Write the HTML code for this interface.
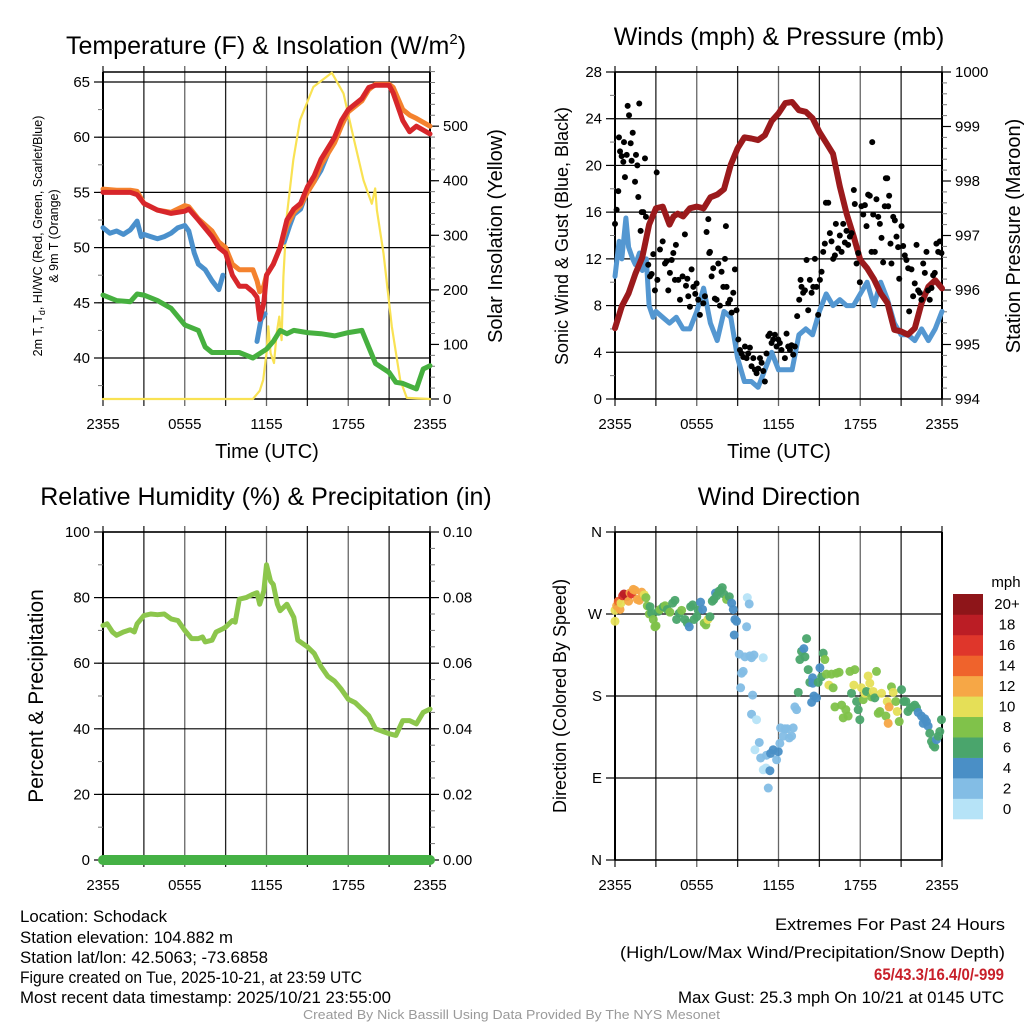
<!DOCTYPE html>
<html><head><meta charset="utf-8"><style>
html,body{margin:0;padding:0;background:#fff}
svg{display:block;font-family:"Liberation Sans",Arial,sans-serif}
</style></head><body>
<svg id="fig" width="1024" height="1024" viewBox="0 0 1024 1024" xmlns="http://www.w3.org/2000/svg">
<rect width="1024" height="1024" fill="#fff"/>
<text x="266" y="54" font-size="25" text-anchor="middle">Temperature (F) &amp; Insolation (W/m<tspan font-size="15" dy="-10">2</tspan><tspan dy="10">)</tspan></text>
<text x="779" y="45" font-size="25" text-anchor="middle">Winds (mph) &amp; Pressure (mb)</text>
<text x="266" y="505" font-size="25" text-anchor="middle">Relative Humidity (%) &amp; Precipitation (in)</text>
<text x="779" y="505" font-size="25" text-anchor="middle">Wind Direction</text>

<text transform="translate(42,236) rotate(-90)" font-size="12.5" text-anchor="middle">2m T, T<tspan font-size="9" dy="3">d</tspan><tspan dy="-3">, HI/WC (Red, Green, Scarlet/Blue)</tspan></text>
<text transform="translate(58,236) rotate(-90)" font-size="12.5" text-anchor="middle">&amp; 9m T (Orange)</text>
<text transform="translate(502,236) rotate(-90)" font-size="20" text-anchor="middle">Solar Insolation (Yellow)</text>
<text transform="translate(568,236) rotate(-90)" font-size="18" text-anchor="middle">Sonic Wind &amp; Gust (Blue, Black)</text>
<text transform="translate(1020,236) rotate(-90)" font-size="20" text-anchor="middle">Station Pressure (Maroon)</text>
<text transform="translate(43,696) rotate(-90)" font-size="21" text-anchor="middle">Percent &amp; Precipitation</text>
<text transform="translate(566,696) rotate(-90)" font-size="18" text-anchor="middle">Direction (Colored By Speed)</text>
<text x="267" y="458" font-size="20" text-anchor="middle">Time (UTC)</text>
<text x="779" y="458" font-size="20" text-anchor="middle">Time (UTC)</text>

<g font-size="16.5" lengthAdjust="spacingAndGlyphs">
<text x="20" y="922" textLength="147" lengthAdjust="spacingAndGlyphs">Location: Schodack</text>
<text x="20" y="943" textLength="213" lengthAdjust="spacingAndGlyphs">Station elevation: 104.882 m</text>
<text x="20" y="963" textLength="248" lengthAdjust="spacingAndGlyphs">Station lat/lon: 42.5063; -73.6858</text>
<text x="20" y="983" textLength="342" lengthAdjust="spacingAndGlyphs">Figure created on Tue, 2025-10-21, at 23:59 UTC</text>
<text x="20" y="1003" textLength="371" lengthAdjust="spacingAndGlyphs">Most recent data timestamp: 2025/10/21 23:55:00</text>
</g>
<g font-size="17">
<text x="775" y="930" textLength="230" lengthAdjust="spacingAndGlyphs">Extremes For Past 24 Hours</text>
<text x="620" y="958" textLength="385" lengthAdjust="spacingAndGlyphs">(High/Low/Max Wind/Precipitation/Snow Depth)</text>
<text x="874" y="980" textLength="130" lengthAdjust="spacingAndGlyphs" fill="#c8202a" font-weight="bold">65/43.3/16.4/0/-999</text>
<text x="678" y="1003" textLength="326" lengthAdjust="spacingAndGlyphs">Max Gust: 25.3 mph On 10/21 at 0145 UTC</text>
</g>
<text x="303" y="1019" font-size="13" textLength="417" lengthAdjust="spacingAndGlyphs" fill="#9a9a9a">Created By Nick Bassill Using Data Provided By The NYS Mesonet</text>
</svg>
<script>
// ---- data ----
const xTickLabels = ["2355","0555","1155","1755","2355"];
const redT = [0,1,2,2.5,3,4,5,6,6.3,7,8,8.5,9,9.5,10,10.5,11,11.3,11.5,11.8,12,12.5,13,13.5,14,14.5,15,15.5,16,17,17.5,18,19,19.5,20,21,21.3,22,22.5,23,24];
const redV = [55.0,55.0,55.0,54.8,54.0,53.4,53.1,53.3,53.5,52.5,51.0,50.0,49.5,47.5,46.5,46.5,46.0,45.5,43.5,45,47.5,48.5,50,52.5,53.5,54,55.5,56.5,58,60,61.5,62.5,63.5,64.5,64.7,64.7,64.0,61.5,60.5,61,60.3];
const orangeV = [55.3,55.2,55.2,55.1,54.0,53.4,53.2,53.8,53.7,52.6,51.5,50.5,50.0,48.5,48.0,48.0,48.0,47.0,46.0,46.5,47.5,48.5,50,52,53.2,53.8,55,56,57.5,59.5,61,62.3,63.3,64.3,64.8,64.8,64.5,62.5,62,61.7,61];
const blueT = [0,0.5,1,1.5,2,2.5,2.8,3,3.5,4,4.5,5,5.5,6,6.3,6.7,7,7.5,8,8.5,8.8,null,11.3,11.6,11.9,null,13.3,13.7,14,14.5,15,15.5,16,16.5];
const blueV = [51.8,51.3,51.5,51.2,51.6,52.4,51.0,51.2,51.0,50.8,51.0,51.3,51.8,52.0,51.5,49.5,48.5,48.0,47.0,46.2,47.5,null,41.5,43.5,44.0,null,50.5,52.0,53.0,53.5,55.2,56,57,58.5];
const greenT = [0,1,2,2.5,3,4,5,6,7,7.5,8,9,10,11,12,12.5,13,13.5,14,15,16,17,18,19,19.5,20,21,21.5,22,23,23.5,24];
const greenV = [45.7,45.2,45.1,45.8,45.7,45.2,44.5,43.0,42.5,41,40.5,40.5,40.5,40.0,40.8,41.5,42.5,42.2,42.5,42.3,42.2,42.0,42.3,42.5,41,39.5,38.7,37.8,37.7,37.2,39,39.3];
const solarT = [0,11.0,11.5,11.76,12.0,12.13,12.3,12.55,12.75,12.94,13.11,13.24,13.48,13.97,14.46,15.44,16.79,17.65,18.38,19.12,19.73,19.98,20.1,20.59,21.2,21.81,22.3,24];
const solarV = [0,0,15,35,84,133,84,66,121,151,108,224,334,438,511,572,598,560,480,401,358,386,346,267,133,35,2,0];
const tempTicks = [40,45,50,55,60,65];
const solarTicks = [0,100,200,300,400,500];

const windT = [0,0.3,0.5,0.8,1,1.3,1.5,1.8,2,2.3,2.5,2.8,3,3.5,4,4.5,5,5.5,6,6.5,7,7.5,8,8.5,9,9.5,10,10.5,11,11.5,12,12.5,13,13.5,14,14.5,15,15.5,16,16.5,17,17.5,18,18.5,19,19.5,20,20.5,21,21.5,22,22.5,23,23.5,24];
const windV = [10.5,13.5,12,15.5,13,12,11.5,12.5,11,12,8,7,7.5,7,6.5,7,6,6,7.5,9.5,6.5,5,7.5,7,3.5,1.5,1.5,1,2.5,4,2.5,2.5,2.5,5.5,6,5.5,7.5,9,8,8.5,8,8,9,10,8,10,8.5,6.5,5.5,5.5,5,6,5,6,7.5];
const presT = [0,0.5,1,1.5,2,2.5,3,3.5,4,4.3,4.6,5,5.5,6,6.5,7,7.5,8,8.5,9,9.5,10,10.5,11,11.5,12,12.5,13,13.5,14,14.5,15,15.5,16,16.5,17,17.5,18,18.5,19,19.5,20,20.5,21,21.5,22,22.5,23,23.5,24];
const presV = [995.3,995.7,995.94,996.3,996.6,997.2,997.5,997.53,997.2,997.35,997.4,997.35,997.5,997.53,997.5,997.7,997.75,997.85,998.3,998.6,998.8,998.78,998.75,998.84,999.1,999.24,999.43,999.45,999.3,999.27,999.15,998.9,998.7,998.5,997.9,997.4,997.0,996.55,996.4,996.2,995.94,995.76,995.27,995.24,995.18,995.3,995.76,996.06,996.18,996.03];
const gustT = [0,0.12,0.24,0.29,0.37,0.49,0.61,0.66,0.73,0.86,0.93,1.03,1.15,1.22,1.3,1.47,1.54,1.64,1.71,1.78,1.88,1.96,2.08,2.2,2.27,2.44,2.57,2.69,2.81,2.93,3.06,3.11,3.3,3.5,3.67,3.79,3.91,4.03,4.16,4.28,4.4,4.47,4.65,4.77,4.96,5.13,5.21,5.31,5.38,5.5,5.62,5.75,5.89,5.99,6.11,6.23,6.48,6.6,6.72,6.85,6.92,6.97,7.09,7.21,7.33,7.46,7.58,7.7,7.82,7.95,8.07,8.14,8.19,8.31,8.44,8.56,8.68,8.8,8.92,9.05,9.17,9.29,9.41,9.54,9.66,9.78,9.9,10.02,10.15,10.27,10.39,10.51,10.64,10.76,10.88,11.0,11.12,11.25,11.37,11.49,11.61,11.74,11.86,11.98,12.1,12.22,12.47,12.59,12.71,12.84,12.96,13.08,13.2,13.37,13.52,13.62,13.69,13.81,13.94,14.06,14.18,14.3,14.43,14.55,14.67,14.79,14.91,15.04,15.16,15.28,15.4,15.48,15.65,15.77,15.89,16.01,16.14,16.21,16.38,16.5,16.63,16.75,16.87,16.99,17.11,17.24,17.36,17.53,17.6,17.73,17.85,17.97,18.09,18.22,18.34,18.46,18.58,18.7,18.83,18.88,18.95,19.07,19.19,19.32,19.44,19.56,19.68,19.8,19.88,19.98,20.05,20.12,20.22,20.29,20.42,20.54,20.66,20.78,20.86,21.03,21.15,21.27,21.39,21.52,21.59,21.76,21.88,22.0,22.13,22.25,22.37,22.49,22.62,22.74,22.86,22.98,23.1,23.23,23.35,23.47,23.59,23.72,23.84,23.96];
const gustV = [15,16.2,17.8,22.4,21.2,20.8,20.3,22,19,20.9,25.1,24.3,21.9,20.4,22.8,18.6,20.9,20,17.3,25.3,14.4,16,16,20.6,15.6,11.5,10.5,10.7,12.4,9.3,19.4,10.2,12.8,13.5,11.6,11.8,9.3,10.8,11.9,12.5,10.2,13.2,10.2,8.5,10.5,14.1,9.7,10.3,8.8,7.9,11.1,9.6,9,9.9,8.5,7.2,8.2,8.8,14.3,15.4,12.5,12.6,10.5,11.2,8.6,8.5,11.6,8,10.9,9.6,12,14.8,9.6,8.2,8.5,7.4,9.1,11.1,7.6,5.1,4.2,3.9,3.6,4.5,3.5,3.9,4.4,2.8,3.5,2.5,2.2,2.6,3.5,3.1,2.4,1.5,3.9,5.4,5.6,4.8,5.1,5.5,4.5,5.1,4.8,4.2,3.5,5.6,4.5,4.2,4.6,3.8,4.5,7.1,8.5,10.2,9.6,9.1,9.3,11.9,7.6,10.2,9.1,9.6,12,9.6,7.2,10.2,10.9,12.6,13.3,16.8,16.8,14.2,13.5,12,12.3,15,12.9,14,12.6,15,13.4,14.4,13.2,13.9,14.2,17.9,16.7,11.6,12.5,10,16.5,15.8,16.6,14.8,17.5,17.4,12.6,22,15.8,12.6,17.1,15.6,15,13.8,11.7,16.5,18.9,18.9,16.5,17.4,13.3,11.6,15.6,15.3,13.9,13,10.3,14.8,13.1,12.3,11.9,11.2,7.5,11.1,8.8,9.9,13.2,9.3,9.1,8.5,11.6,10.8,12.6,9.3,8.5,9.5,10.6,10.8,13.3,12.6,13.5,12.5];
const windTicks = [0,4,8,12,16,20,24,28];
const presTicks = [994,995,996,997,998,999,1000];

const rhT = [0,0.3,0.7,1,1.5,2,2.3,2.5,3,3.5,4,4.5,5,5.5,6,6.5,7,7.3,7.5,8,8.3,8.8,9,9.5,9.7,10,10.5,11,11.3,11.5,11.8,12,12.3,12.5,12.8,13,13.5,14,14.3,15,15.5,16,16.5,17,17.5,18,18.5,19,19.5,20,21,21.5,22,22.5,23,23.5,24];
const rhV = [71.5,72,69.5,68.5,69.5,70.2,69.5,72,74.5,75,74.8,75,73.5,73,70,67.5,67.5,68,66.5,67,69.5,70.5,71,73,72.5,79.5,80,81,81.5,78,82,90,85,84,78,76,78,74,67,65,63,59,56,54.5,52,49,48,46,44,40,38.5,38,42.5,42.5,41.5,45,46];
const precipT = [0,24];
const precipV = [0,0];
const rhTicks = [0,20,40,60,80,100];
const precipTicks = ["0.00","0.02","0.04","0.06","0.08","0.10"];

const dirT = [0,0,0.12,0.24,0.37,0.44,0.56,0.66,0.86,1.0,1.10,1.22,1.34,1.47,1.64,1.78,1.96,2.15,2.27,2.37,2.52,2.57,2.69,2.81,2.93,3.01,3.18,3.3,3.55,3.67,3.84,4.03,4.23,4.4,4.52,4.72,4.89,5.13,5.31,5.45,5.55,5.7,5.8,6.0,6.11,6.28,6.43,6.55,6.67,6.82,6.97,7.14,7.26,7.38,7.46,7.63,7.75,7.87,7.99,8.19,8.39,8.56,8.68,8.8,8.92,8.75,9.12,9.29,9.41,9.54,9.66,9.71,9.85,9.9,10.02,10.2,10.88,9.22,10.10,10.02,10.39,10.59,10.27,10.69,11.12,11.42,11.61,10.88,11.08,11.37,11.25,11.86,11.98,12.1,12.15,12.35,12.47,12.64,12.79,12.96,13.08,13.2,13.33,13.45,13.57,13.69,13.86,13.94,14.06,14.18,14.3,14.5,14.43,14.52,14.6,14.79,14.91,15.04,15.16,15.28,15.4,15.52,15.7,15.89,16.01,16.14,16.26,16.45,16.63,16.75,16.94,17.11,17.24,17.36,17.53,17.6,17.73,17.85,17.97,18.09,18.22,18.34,18.46,18.58,18.7,18.83,18.95,19.07,19.19,19.32,19.44,19.56,19.88,19.98,20.05,20.12,20.29,20.42,20.61,20.71,20.86,21.03,21.2,21.35,21.5,21.68,21.85,22.0,22.13,22.25,22.49,22.62,22.74,22.86,22.98,23.1,23.23,23.35,23.47,23.59,23.72,23.84,23.96];
const dirV = [262,274,279,284,275,282,290,292,289,284,293,292,297,296,286,285,294,291,288,279,270,278,271,264,256,257,273,275,278,279,275,272,282,285,264,271,274,264,260,256,278,280,264,267,274,283,275,260,258,264,267,284,286,293,290,295,296,299,292,286,289,282,275,264,262,247,226,205,207,223,256,288,281,224,222,225,222,189,181,160,154,129,121,112,115,117,121,99,101,98,79,110,119,128,145,136,144,144,134,136,145,168,165,184,220,229,232,223,243,209,195,200,173,194,180,178,195,211,201,227,220,204,192,204,189,168,205,206,170,156,165,158,207,183,192,209,174,165,154,189,176,183,185,202,194,179,185,178,207,161,163,183,158,174,150,168,190,184,174,163,152,187,174,174,163,167,168,170,167,162,158,150,155,152,147,139,130,126,124,132,136,141,154,158,152,152];
const dirS = [10,10,12,14,12,10,16,18,18,12,12,16,12,12,12,12,12,10,8,8,8,6,6,8,8,8,6,8,6,8,6,8,6,6,6,6,8,6,6,4,6,6,6,6,6,4,4,8,8,10,6,6,6,4,6,6,6,6,6,8,6,4,4,4,4,4,2,2,2,2,2,0,2,2,2,2,0,2,2,2,0,2,0,2,2,4,4,0,0,4,2,2,4,2,2,2,2,2,2,2,2,2,2,6,6,6,4,6,6,6,6,4,4,4,4,4,6,4,6,6,8,8,10,8,8,8,8,8,8,8,8,8,8,6,10,8,6,6,6,10,8,10,6,10,10,8,10,6,8,8,8,10,8,10,12,12,8,10,8,10,8,6,6,6,6,6,6,6,6,4,4,4,4,4,4,6,6,6,6,4,6,6,6,8,8,8,8];
const dirTickLabels = ["N","E","S","W","N"];
const speedBins = ["0","2","4","6","8","10","12","14","16","18","20+"];
const binColors = ["#b6e3f7","#83bde5","#4a8fc6","#4aa56c","#80c24a","#e5df57","#f6a746","#ef632c","#df362b","#bb1d25","#8e1519"];

// ---- helpers ----
const NS = "http://www.w3.org/2000/svg";
const svg = document.getElementById("fig");
function mk(tag, attrs, parent) {
  const e = document.createElementNS(NS, tag);
  for (const k in attrs) e.setAttribute(k, attrs[k]);
  (parent || svg).appendChild(e);
  return e;
}
function lin(d0, d1, r0, r1) { return v => r0 + (v - d0) * (r1 - r0) / (d1 - d0); }

function panel(name, box) {
  const g = mk("g", {});
  
  
  const xs = lin(0, 24, box.x0, box.x1);
  for (let h = 0; h <= 24; h += 3) {
    const x = xs(h);
    const l = mk("line", {x1:x, x2:x, y1:box.y0 - 6, y2:box.y1 + 7, stroke:(h % 6 === 0 && h>0 && h<24) ? "#666" : "#222", "stroke-width":1.3}, g);
    
    
  }
  for (let i = 0; i < xTickLabels.length; i++) {
    const t = mk("text", {x:xs(i * 6), y:box.y1 + 30, "font-size":15, "text-anchor":"middle"}, g);
    t.textContent = xTickLabels[i];
    
    
  }
  mk("line", {x1:box.x0, x2:box.x1, y1:box.y0, y2:box.y0, stroke:"#000", "stroke-width":1.5}, g);
  mk("line", {x1:box.x0, x2:box.x0, y1:box.y0, y2:box.y1, stroke:"#000", "stroke-width":2}, g);
  mk("line", {x1:box.x1, x2:box.x1, y1:box.y0, y2:box.y1, stroke:"#000", "stroke-width":2}, g);
  mk("line", {x1:box.x0, x2:box.x1, y1:box.y1, y2:box.y1, stroke:"#000", "stroke-width":1.5}, g);
  return {g, xs};
}
function yAxis(g, box, ys, ticks, labels, side, minorStep, dmin, dmax, grid) {
  const x = side === "left" ? box.x0 : box.x1;
  const dir = side === "left" ? -1 : 1;
  for (let v = dmin; v <= dmax + 1e-9; v += minorStep) {
    const y = ys(v);
    if (y < box.y0 - 0.5 || y > box.y1 + 0.5) continue;
    mk("line", {x1:x, x2:x + dir * 5, y1:y, y2:y, stroke:"#777", "stroke-width":1}, g);
  }
  ticks.forEach((v, i) => {
    const y = ys(v);
    if (grid) mk("line", {x1:box.x0, x2:box.x1, y1:y, y2:y, stroke:"#000", "stroke-width":1.2}, g);
    mk("line", {x1:x, x2:x + dir * 9, y1:y, y2:y, stroke:"#000", "stroke-width":1.2}, g);
    const t = mk("text", {x:x + dir * 13, y:y + 5, "font-size":15, "text-anchor":side === "left" ? "end" : "start"}, g);
    t.textContent = labels[i];
    
    
  });
}
function pathFrom(T, V, xs, ys) {
  let d = "", pen = false;
  for (let i = 0; i < T.length; i++) {
    if (T[i] === null || V[i] === null) { pen = false; continue; }
    d += (pen ? "L" : "M") + xs(T[i]).toFixed(1) + "," + ys(V[i]).toFixed(1);
    pen = true;
  }
  return d;
}
function series(g, name, T, V, xs, ys, color, w) {
  const p = mk("path", {d:pathFrom(T, V, xs, ys), fill:"none", stroke:color, "stroke-width":w, "stroke-linejoin":"round", "stroke-linecap":"round"}, g);
  
  
  return p;
}

// ---- panel 1: temperature ----
(function(){
  const box = {x0:103, x1:430, y0:72, y1:399};
  const {g, xs} = panel("temperature", box);
  const ys = lin(40, 65, 358, 82);
  const ss = lin(0, 600, 399, 71.6);
  yAxis(g, box, ys, tempTicks, tempTicks.map(String), "left", 2.5, 37.5, 65.5, true);
  yAxis(g, box, ss, solarTicks, solarTicks.map(String), "right", 20, 0, 600, false);
  series(g, "solar-insolation-line", solarT, solarV, xs, ss, "#f9e253", 2.2);
  series(g, "dewpoint-line", greenT, greenV, xs, ys, "#46b03f", 5);
  series(g, "heat-index-windchill-line", blueT, blueV, xs, ys, "#4a90cc", 5);
  series(g, "temp-9m-line", redT, orangeV, xs, ys, "#f4822e", 5);
  series(g, "temp-2m-line", redT, redV, xs, ys, "#d7262b", 5);
})();

// ---- panel 2: winds ----
(function(){
  const box = {x0:615, x1:942, y0:72, y1:399};
  const {g, xs} = panel("winds", box);
  const ws = lin(0, 28, 399, 72);
  const ps = lin(994, 1000, 399, 72);
  yAxis(g, box, ws, windTicks, windTicks.map(String), "left", 2, 0, 28, true);
  yAxis(g, box, ps, presTicks, presTicks.map(String), "right", 0.2, 994, 1000, false);
  series(g, "sonic-wind-line", windT, windV, xs, ws, "#5497d1", 5);
  series(g, "pressure-line", presT, presV, xs, ps, "#9b1a1c", 6);
  for (let i = 0; i < gustT.length; i++) {
    const c = mk("circle", {cx:xs(gustT[i]), cy:ws(gustV[i]), r:3, fill:"#000"}, g);
    
    
  }
})();

// ---- panel 3: humidity ----
(function(){
  const box = {x0:103, x1:430, y0:532, y1:860};
  const {g, xs} = panel("humidity", box);
  const ys = lin(0, 100, 860, 532);
  const qs = lin(0, 0.1, 860, 532);
  yAxis(g, box, ys, rhTicks, rhTicks.map(String), "left", 10, 0, 100, true);
  yAxis(g, box, qs, precipTicks.map(Number), precipTicks, "right", 0.005, 0, 0.1, false);
  series(g, "relative-humidity-line", rhT, rhV, xs, ys, "#8cc64c", 5);
  series(g, "precipitation-line", precipT, precipV, xs, qs, "#45b145", 10);
})();

// ---- panel 4: wind direction ----
(function(){
  const box = {x0:615, x1:942, y0:532, y1:860};
  const {g, xs} = panel("direction", box);
  const ds = lin(0, 360, 860, 532);
  yAxis(g, box, ds, [0,90,180,270,360], dirTickLabels, "left", 90, 0, 360, true);
  for (let i = 0; i < dirT.length; i++) {
    const b = Math.min(10, Math.floor(dirS[i] / 2));
    const c = mk("circle", {cx:xs(dirT[i]), cy:ds(dirV[i]), r:4.5, fill:binColors[b], opacity:0.95}, g);
    
    
  }
  const cb = mk("g", {});
  
  
  const by = lin(0, 11, 819, 594);
  for (let i = 0; i < speedBins.length; i++) {
    const r = mk("rect", {x:953, y:by(i + 1), width:30, height:by(i) - by(i + 1) + 0.3, fill:binColors[i]}, cb);
    
    
    const t = mk("text", {x:1007, y:(by(i) + by(i + 1)) / 2 + 5, "font-size":15, "text-anchor":"middle"}, cb);
    t.textContent = speedBins[i];
    
    
  }
  const u = mk("text", {x:1006, y:587, "font-size":15, "text-anchor":"middle"}, cb);
  u.textContent = "mph";
  
  
})();
</script>
</body></html>
